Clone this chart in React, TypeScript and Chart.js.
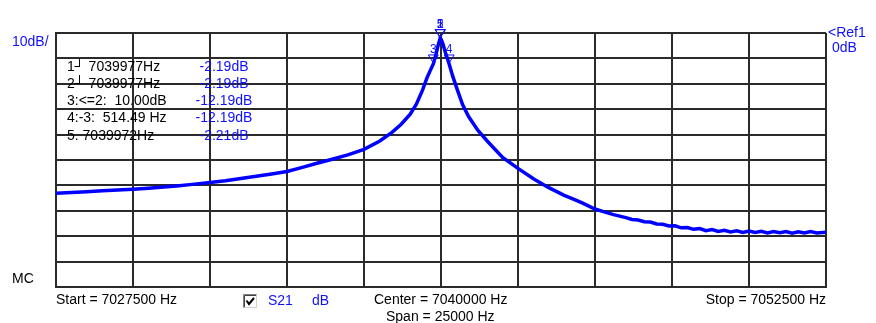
import { useEffect, useRef } from 'react';
import { Chart, registerables } from 'chart.js';

Chart.register(...registerables);

// Sweep settings
const startHz = 7027500;
const stopHz = 7052500;
const centerHz = 7040000;
const spanHz = 25000;
const refDb = 0;
const dbPerDiv = 10;
const divisions = 10;

// S21 magnitude trace (Hz, dB)
const freqHz = [
  7027500, 7028000, 7028500, 7029000, 7029500, 7030000, 7030500, 7031000,
  7031500, 7032000, 7032500, 7033000, 7033500, 7034000, 7034500, 7035000,
  7035500, 7036000, 7036500, 7037000, 7037500, 7038000, 7038400, 7038700,
  7039000, 7039200, 7039400, 7039550, 7039650, 7039750, 7039830, 7039900,
  7039950, 7039972, 7039977, 7040010, 7040060, 7040140, 7040200, 7040264.49,
  7040380, 7040520, 7040700, 7040900, 7041200, 7041500, 7042000, 7042500,
  7043000, 7043500, 7044000, 7044300, 7044600, 7045000, 7045300, 7045600,
  7046000, 7046200, 7046400, 7046600, 7046800, 7047000, 7047200, 7047400,
  7047600, 7047800, 7048000, 7048200, 7048400, 7048600, 7048800, 7049000,
  7049200, 7049400, 7049600, 7049800, 7050000, 7050200, 7050400, 7050600,
  7050800, 7051000, 7051200, 7051400, 7051600, 7051800, 7052000, 7052200,
  7052500,
];
const s21Db = [
  -63.1, -62.8, -62.5, -62.1, -61.8, -61.5, -61.1, -60.6,
  -60.1, -59.5, -58.9, -58.2, -57.3, -56.4, -55.5, -54.5,
  -52.9, -51.2, -49.6, -47.9, -45.8, -42.6, -39.2, -36.0,
  -32.0, -28.0, -22.5, -17.5, -14.8, -12.19, -8.8, -5.2,
  -3.0, -2.21, -2.19, -2.6, -4.2, -7.6, -9.8, -12.19,
  -17.0, -22.0, -28.2, -33.0, -38.4, -42.5, -49.0, -53.3,
  -57.4, -60.9, -63.9, -65.4, -67.0, -69.3, -70.4, -71.5,
  -72.7, -73.4, -73.6, -74.3, -74.4, -75.2, -75.3, -76.0,
  -75.9, -76.7, -76.6, -77.3, -77.0, -77.8, -77.4, -78.1,
  -77.7, -78.3, -77.9, -78.5, -78.0, -78.5, -78.1, -78.7,
  -78.2, -78.6, -78.2, -78.8, -78.3, -78.7, -78.2, -78.7,
  -78.4,
];

// Markers
const markerIds = ['1', '2', '3', '4', '5'];
const markerHz = [7039977, 7039977, 7039750, 7040264.49, 7039972];
const markerDb = [-2.19, -2.19, -12.19, -12.19, -2.21];

const BLUE = '#1010ff';
const GRID = '#2a2a2a';
const FONT = '"Liberation Sans", Arial, sans-serif';

const readoutLeft = [
  `1\u2518 ${markerHz[0]}Hz`,
  `2\u2518 ${markerHz[1]}Hz`,
  `3:<=2:  ${(markerDb[1] - markerDb[2]).toFixed(2)}dB`,
  `4:-3:  ${(markerHz[3] - markerHz[2]).toFixed(2)} Hz`,
  `5. ${markerHz[4]}Hz`,
];
const readoutRight = markerDb.map((v) => `${v.toFixed(2)}dB`);

const markerPlugin = {
  id: 'vnaMarkers',
  afterDatasetsDraw(chart: any) {
    const { ctx, scales } = chart;
    ctx.save();
    ctx.strokeStyle = BLUE;
    ctx.fillStyle = BLUE;
    ctx.lineWidth = 1;
    ctx.font = `12px ${FONT}`;
    ctx.textAlign = 'center';
    ctx.textBaseline = 'bottom';
    markerIds.forEach((id, i) => {
      const px = scales.x.getPixelForValue(markerHz[i]);
      const py = scales.y.getPixelForValue(markerDb[i]);
      ctx.beginPath();
      ctx.moveTo(px, py - 1);
      ctx.lineTo(px - 5, py - 9);
      ctx.lineTo(px + 5, py - 9);
      ctx.closePath();
      ctx.stroke();
      ctx.fillText(id, px, py - 8);
    });
    ctx.restore();
  },
};

const textPlugin = {
  id: 'vnaText',
  afterDraw(chart: any) {
    const { ctx, chartArea } = chart;
    const { left, right } = chartArea;
    ctx.save();
    ctx.font = `14px ${FONT}`;
    ctx.textBaseline = 'middle';

    ctx.fillStyle = BLUE;
    ctx.textAlign = 'left';
    ctx.fillText(`${dbPerDiv}dB/`, 12, 42);
    ctx.fillText('<Ref1', right + 2, 33);
    ctx.fillText(`${refDb}dB`, right + 6, 48);

    ctx.fillStyle = '#000';
    ctx.fillText('MC', 12, 279);

    const rowY = [67, 84, 101, 118, 136];
    readoutLeft.forEach((t, i) => {
      ctx.fillStyle = '#000';
      ctx.textAlign = 'left';
      ctx.fillText(t, left + 11, rowY[i]);
      ctx.fillStyle = BLUE;
      ctx.textAlign = 'center';
      ctx.fillText(readoutRight[i], 224, rowY[i]);
    });

    ctx.fillStyle = '#000';
    ctx.textAlign = 'left';
    ctx.fillText(`Start = ${startHz} Hz`, left, 300);
    ctx.fillText(`Center = ${centerHz} Hz`, 374, 300);
    ctx.fillText(`Span = ${spanHz} Hz`, 386, 317);
    ctx.textAlign = 'right';
    ctx.fillText(`Stop = ${stopHz} Hz`, right, 300);

    // trace checkbox
    const bx = 243, by = 294, bs = 14;
    ctx.fillStyle = '#fff';
    ctx.fillRect(bx, by, bs, bs);
    ctx.lineWidth = 1;
    ctx.strokeStyle = '#808080';
    ctx.beginPath();
    ctx.moveTo(bx + 0.5, by + bs);
    ctx.lineTo(bx + 0.5, by + 0.5);
    ctx.lineTo(bx + bs, by + 0.5);
    ctx.stroke();
    ctx.strokeStyle = '#404040';
    ctx.beginPath();
    ctx.moveTo(bx + 1.5, by + bs - 1);
    ctx.lineTo(bx + 1.5, by + 1.5);
    ctx.lineTo(bx + bs - 1, by + 1.5);
    ctx.stroke();
    ctx.strokeStyle = '#d4d0c8';
    ctx.beginPath();
    ctx.moveTo(bx + 0.5, by + bs - 0.5);
    ctx.lineTo(bx + bs - 0.5, by + bs - 0.5);
    ctx.lineTo(bx + bs - 0.5, by + 0.5);
    ctx.stroke();
    ctx.strokeStyle = '#000';
    ctx.lineWidth = 2;
    ctx.beginPath();
    ctx.moveTo(bx + 3.5, by + 6.5);
    ctx.lineTo(bx + 6, by + 10);
    ctx.lineTo(bx + 11, by + 4);
    ctx.stroke();

    ctx.fillStyle = BLUE;
    ctx.textAlign = 'left';
    ctx.fillText('S21', 268, 301);
    ctx.fillText('dB', 312, 301);
    ctx.restore();
  },
};

export default function App() {
  const canvasRef = useRef<HTMLCanvasElement | null>(null);

  useEffect(() => {
    if (!canvasRef.current) return;
    const chart = new Chart(canvasRef.current, {
      type: 'line',
      data: {
        datasets: [
          {
            label: 'S21',
            data: freqHz.map((f, i) => ({ x: f, y: s21Db[i] })),
            borderColor: '#0000ff',
            borderWidth: 3.5,
            pointRadius: 0,
            tension: 0,
            fill: false,
          },
        ],
      },
      options: {
        responsive: false,
        animation: false,
        devicePixelRatio: 1,
        layout: { padding: { left: 56, right: 50, top: 33, bottom: 36 } },
        plugins: { legend: { display: false }, tooltip: { enabled: false } },
        scales: {
          x: {
            type: 'linear',
            min: startHz,
            max: stopHz,
            ticks: { display: false, stepSize: spanHz / divisions },
            grid: { color: GRID, lineWidth: 2, drawTicks: false },
            border: { display: true, color: GRID, width: 2 },
            afterFit: (s: any) => { s.height = 0; },
          },
          y: {
            type: 'linear',
            min: refDb - dbPerDiv * divisions,
            max: refDb,
            ticks: { display: false, stepSize: dbPerDiv },
            grid: { color: GRID, lineWidth: 2, drawTicks: false },
            border: { display: true, color: GRID, width: 2 },
            afterFit: (s: any) => { s.width = 0; },
          },
        },
      },
      plugins: [markerPlugin, textPlugin],
    });
    return () => chart.destroy();
  }, []);

  return (
    <div style={{ position: 'fixed', left: 0, top: 0, width: 876, height: 323, background: '#fff' }}>
      <canvas ref={canvasRef} width={876} height={323} />
    </div>
  );
}
